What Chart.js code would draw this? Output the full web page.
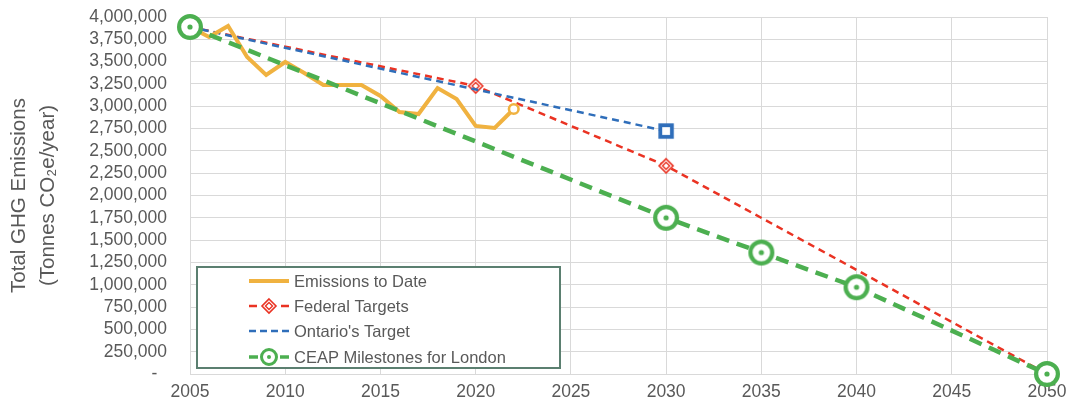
<!DOCTYPE html>
<html>
<head>
<meta charset="utf-8">
<script src="https://cdn.jsdelivr.net/npm/chart.js@4.4.1/dist/chart.umd.min.js"></script>
<style>
  html, body { margin: 0; padding: 0; background: #fff; }
  #wrap { width: 1071px; height: 406px; }
</style>
</head>
<body>
<div id="wrap"><canvas id="ghgChart" width="1071" height="406"></canvas></div>
<script>
// values
const emissionYears = [2005, 2006, 2007, 2008, 2009, 2010, 2011, 2012, 2013, 2014, 2015, 2016, 2017, 2018, 2019, 2020, 2021, 2022];
const emissionsToDate = [3888000, 3776000, 3899000, 3552000, 3350000, 3496000, 3372000, 3238000, 3238000, 3238000, 3115000, 2936000, 2913000, 3204000, 3081000, 2779000, 2756000, 2969000];
const federalYears = [2005, 2020, 2030, 2050];
const federalTargets = [3888000, 3227000, 2333000, 0];
const ontarioYears = [2005, 2030];
const ontarioTarget = [3888000, 2722000];
const ceapYears = [2005, 2030, 2035, 2040, 2050];
const ceapMilestones = [3888000, 1750000, 1361000, 972000, 0];
const seriesNames = ['Emissions to Date', 'Federal Targets', "Ontario's Target", 'CEAP Milestones for London'];
const yearTicks = [2005, 2050, 5];

const YELLOW = '#F0B240';
const RED = '#EA3323';
const BLUE = '#2F6EBA';
const GREEN = '#4CAF50';
const TEXT = '#595959';
const GRID = '#D9D9D9';
const FONT = "'Liberation Sans', Arial, sans-serif";

function makeMarker(size, draw) {
    const c = document.createElement('canvas');
    c.width = size;
    c.height = size;
    draw(c.getContext('2d'), size / 2);
    return c;
}

function bullseye(outer, ring, dot) {
    return makeMarker(Math.ceil(outer * 2 + 2), function (g, m) {
        const r = outer - ring / 2;
        g.beginPath();
        g.arc(m, m, r, 0, Math.PI * 2);
        g.fillStyle = '#fff';
        g.fill();
        g.lineWidth = ring;
        g.strokeStyle = GREEN;
        g.stroke();
        g.beginPath();
        g.arc(m, m, dot, 0, Math.PI * 2);
        g.fillStyle = GREEN;
        g.fill();
    });
}

function diamond() {
    return makeMarker(18, function (g, m) {
        g.strokeStyle = RED;
        g.fillStyle = '#fff';
        g.lineWidth = 1.6;
        g.beginPath();
        g.moveTo(m, m - 7); g.lineTo(m + 7, m); g.lineTo(m, m + 7); g.lineTo(m - 7, m); g.closePath();
        g.fill(); g.stroke();
        g.lineWidth = 1.4;
        g.beginPath();
        g.moveTo(m, m - 3.5); g.lineTo(m + 3.5, m); g.lineTo(m, m + 3.5); g.lineTo(m - 3.5, m); g.closePath();
        g.stroke();
    });
}

function square() {
    return makeMarker(18, function (g, m) {
        g.fillStyle = '#fff';
        g.fillRect(m - 6, m - 6, 12, 12);
        g.strokeStyle = BLUE;
        g.lineWidth = 3.8;
        g.strokeRect(m - 5.8, m - 5.8, 11.6, 11.6);
    });
}

const bigBullseye = bullseye(13, 4.2, 2.6);
const smallBullseye = bullseye(9, 3, 2);
const diamondMark = diamond();
const squareMark = square();

function points(xs, ys) {
    return xs.map((x, i) => ({ x: x, y: ys[i] }));
}

// legend drawn inside the plot, lower left
const boxLegend = {
    id: 'boxLegend',
    afterDatasetsDraw(chart) {
        const ctx = chart.ctx;
        const area = chart.chartArea;
        const bx = area.left + 7, by = area.bottom - 107, bw = 363, bh = 101;
        ctx.save();
        ctx.fillStyle = '#fff';
        ctx.fillRect(bx, by, bw, bh);
        ctx.strokeStyle = '#5B7F70';
        ctx.lineWidth = 2;
        ctx.strokeRect(bx, by, bw, bh);

        const rows = [
            { color: YELLOW, width: 4, segs: [[0, 40]] },
            { color: RED, width: 2.5, segs: [[0, 8], [32, 40]], mark: diamondMark },
            { color: BLUE, width: 2.5, segs: [[0, 7], [11, 18], [22, 29], [33, 40]] },
            { color: GREEN, width: 3.5, segs: [[0, 9], [31, 40]], mark: smallBullseye }
        ];
        const rowY = [14, 39, 64, 90];
        const sx = bx + 52;
        rows.forEach(function (row, i) {
            const y = by + rowY[i];
            ctx.strokeStyle = row.color;
            ctx.lineWidth = row.width;
            row.segs.forEach(function (s) {
                ctx.beginPath();
                ctx.moveTo(sx + s[0], y);
                ctx.lineTo(sx + s[1], y);
                ctx.stroke();
            });
            if (row.mark) {
                ctx.drawImage(row.mark, sx + 20 - row.mark.width / 2, y - row.mark.height / 2);
            }
            ctx.fillStyle = TEXT;
            ctx.font = '16.5px ' + FONT;
            ctx.textBaseline = 'middle';
            ctx.textAlign = 'left';
            ctx.fillText(seriesNames[i], sx + 45, y + 1);
        });
        ctx.restore();
    }
};

const ctx = document.getElementById('ghgChart').getContext('2d');
const ghgChart = new Chart(ctx, {
    type: 'line',
    data: {
        datasets: [
            {
                label: seriesNames[3],
                data: points(ceapYears, ceapMilestones),
                borderColor: GREEN,
                borderWidth: 4.5,
                borderDash: [13, 8],
                pointStyle: bigBullseye,
                pointRadius: 10,
                order: 0,
                clip: false
            },
            {
                label: seriesNames[0],
                data: points(emissionYears, emissionsToDate),
                borderColor: YELLOW,
                borderWidth: 4,
                pointStyle: 'circle',
                pointRadius: emissionYears.map((y, i) => i === emissionYears.length - 1 ? 4.8 : 0),
                pointBorderWidth: 2.6,
                pointBorderColor: YELLOW,
                pointBackgroundColor: '#fff',
                order: 1,
                clip: false
            },
            {
                label: seriesNames[1],
                data: points(federalYears, federalTargets),
                borderColor: RED,
                borderWidth: 2.5,
                borderDash: [7, 5],
                pointStyle: diamondMark,
                pointRadius: 7,
                order: 3,
                clip: false
            },
            {
                label: seriesNames[2],
                data: points(ontarioYears, ontarioTarget),
                borderColor: BLUE,
                borderWidth: 2.5,
                borderDash: [7, 5],
                pointStyle: squareMark,
                pointRadius: [0, 7],
                order: 2,
                clip: false
            }
        ]
    },
    options: {
        responsive: false,
        animation: false,
        events: [],
        layout: { padding: { top: 17, right: 24, bottom: 0, left: 0 } },
        plugins: {
            legend: { display: false },
            tooltip: { enabled: false }
        },
        scales: {
            x: {
                type: 'linear',
                min: yearTicks[0],
                max: yearTicks[1],
                grid: { color: GRID, drawTicks: false },
                border: { color: GRID },
                ticks: {
                    stepSize: yearTicks[2],
                    autoSkip: false,
                    maxRotation: 0,
                    padding: 8,
                    color: TEXT,
                    font: { family: FONT, size: 17.5 },
                    callback: v => String(v)
                },
                afterFit: s => { s.height = 32; s.paddingLeft = 0; s.paddingRight = 0; }
            },
            y: {
                min: 0,
                max: 4000000,
                grid: { color: GRID, drawTicks: false },
                border: { color: GRID },
                ticks: {
                    stepSize: 250000,
                    autoSkip: false,
                    padding: 23,
                    color: TEXT,
                    font: { family: FONT, size: 17.5 },
                    callback: v => v === 0 ? '-  ' : v.toLocaleString('en-US')
                },
                title: {
                    display: true,
                    text: ['Total GHG Emissions', '(Tonnes CO\u2082e/year)'],
                    color: TEXT,
                    font: { family: FONT, size: 20.5, lineHeight: 1.4 },
                    padding: { top: 5, bottom: 0 }
                },
                afterFit: s => { s.width = 190; s.paddingTop = 0; s.paddingBottom = 0; }
            }
        }
    },
    plugins: [boxLegend]
});
</script>
</body>
</html>
